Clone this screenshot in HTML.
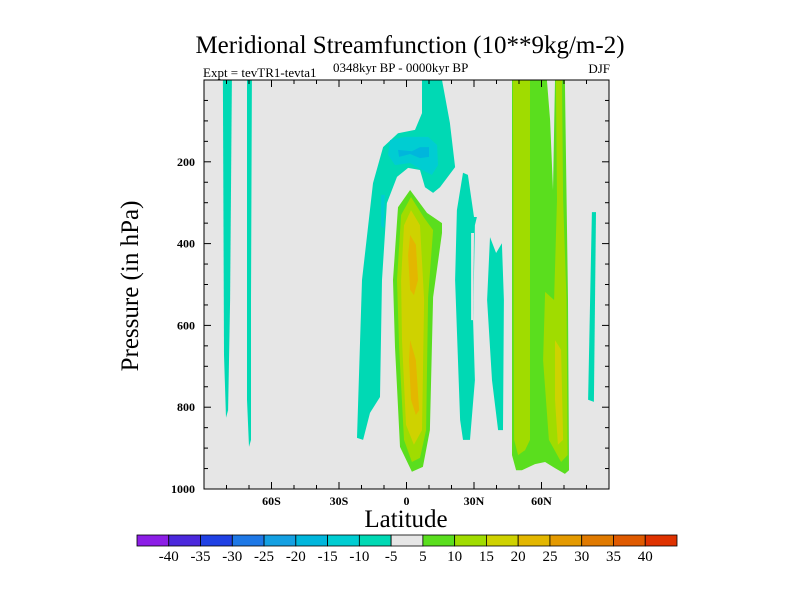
<!DOCTYPE html>
<html><head><meta charset="utf-8"><style>
body{margin:0;background:#fff;width:800px;height:600px;overflow:hidden}
svg{display:block;font-family:"Liberation Serif",serif}
</style></head><body>
<svg id="c" width="800" height="600">
<text x="410" y="53" text-anchor="middle" font-size="25">Meridional Streamfunction (10**9kg/m-2)</text>
<text x="203" y="77" font-size="13">Expt = tevTR1-tevta1</text>
<text x="333" y="72" font-size="13">0348kyr BP - 0000kyr BP</text>
<text x="610" y="73" text-anchor="end" font-size="13">DJF</text>
<text x="406" y="527" text-anchor="middle" font-size="25">Latitude</text>
<text transform="translate(138,286) rotate(-90)" text-anchor="middle" font-size="25">Pressure (in hPa)</text>
<g id="plot"></g>
<g id="bar"></g>
</svg>
<script>
const levels=[-40,-35,-30,-25,-20,-15,-10,-5,5,10,15,20,25,30,35,40];
const levelColors=["#8c1ee6","#4b28dc","#2041e4","#1e78e6","#14a0e2","#00b6dc","#00cdd2","#00d9b4","#e6e6e6","#5ade1e","#a0dc00","#cfd200","#e3b700","#e49a00","#e07a00","#df5a00","#df3200"];
const latTicks=[-60,-30,0,30,60];
const latTickLabels=["60S","30S","0","30N","60N"];
const pTicks=[200,400,600,800,1000];
// filled contour regions: [level index, [[lat,p],...]]
const regionLevels=[7,7,7,7,7,6,6,5,9,10,11,12,12,7,7,9,10,10,11];
const regionShapes=[
[[-81.6,0],[-77.6,0],[-78.4,538],[-79.3,807],[-80.2,826],[-81.1,672]],
[[-70.9,0],[-68.7,0],[-69.1,538],[-69.1,880],[-70,897],[-70.9,782]],
[[82.4,323],[84.2,323],[83.3,787],[80.7,782],[81.6,538]],
[[6.9,0],[15.8,0],[19.3,105],[21.6,213],[14.9,262],[11.8,276],[8.2,262],[6,220],[0.7,215],[-4.2,237],[-8.7,301],[-10.9,489],[-11.8,775],[-16.2,814],[-19.3,880],[-22,875],[-19.8,489],[-14.9,252],[-10.4,164],[-3.8,130],[3.8,122],[6.9,81]],
[[25.1,227],[27.3,232],[30,335],[31.3,335],[30.4,355],[29.6,587],[30.4,734],[28.2,880],[25.1,880],[23.8,831],[21.6,489],[22.4,318]],
[[-7.3,147],[-0.7,139],[9.6,139],[13.6,159],[14,208],[11.3,232],[6.9,220],[1.6,203],[-5.1,208],[-8.2,183]],
[[-11.3,281],[-9.6,281],[-10,362],[-11.3,357]],
[[-3.8,171],[2.4,174],[6,164],[10,164],[10,188],[6,191],[1.6,181],[-3.3,188]],
[[1.6,269],[9.1,325],[15.8,350],[15.8,374],[11.8,531],[10.4,856],[7.3,946],[2.4,958],[-2.9,897],[-5.1,653],[-6,489],[-3.8,311]],
[[2,286],[7.8,337],[11.8,367],[9.6,531],[8.7,856],[6,924],[2.4,934],[-1.1,880],[-3.3,653],[-4.2,489],[-2.4,330]],
[[2,318],[6,355],[7.8,538],[6.9,856],[3.3,892],[-0.2,843],[-2,636],[-2.4,489],[-1.1,355]],
[[1.6,379],[4.2,403],[5.1,489],[3.3,526],[1.6,513],[0.7,428]],
[[1.6,636],[4.2,685],[5.6,807],[4.2,819],[2,782],[1.1,685]],
[[37.1,384],[39.8,423],[42.4,399],[43.3,538],[42.9,856],[40.7,856],[38,734],[35.8,538]],
[[28.7,374],[30,374],[29.6,587],[28.7,587]],
[[46.9,0],[62.4,0],[63.8,98],[65.1,269],[66,0],[70.4,0],[71.8,538],[72.2,954],[70.4,963],[66,949],[61.6,934],[57.1,939],[51.3,954],[48.7,954],[46.9,917]],
[[47.3,0],[54.9,0],[54.9,880],[52.7,905],[49.6,917],[47.8,880]],
[[66.4,0],[69.1,0],[69.6,293],[71.1,538],[71.6,917],[68.7,934],[63.3,880],[60.7,685],[61.6,518],[65.6,538],[66.9,293]],
[[66,636],[68.7,660],[69.6,880],[67.3,892],[66,782]]
];
const NS="http://www.w3.org/2000/svg";
const X0=204,X1=609,Y0=80,Y1=489;
const xs=l=>X0+(l+90)/180*(X1-X0);
const ys=p=>Y0+p/1000*(Y1-Y0);
function mk(t,a,parent){const e=document.createElementNS(NS,t);for(const k in a)e.setAttribute(k,a[k]);parent.appendChild(e);return e;}
const plot=document.getElementById('plot');
const bg=mk('rect',{x:X0,y:Y0,width:X1-X0,height:Y1-Y0,fill:'#e6e6e6'},plot);


regionShapes.forEach((s,i)=>{
  const pts=s.map(q=>xs(q[0]).toFixed(1)+','+ys(q[1]).toFixed(1)).join(' ');
  const col=i==14?'#e6e6e6':levelColors[regionLevels[i]];
  const e=mk('polygon',{points:pts,fill:col},plot);
  
  
});
const fr=mk('rect',{x:X0,y:Y0,width:X1-X0,height:Y1-Y0,fill:'none',stroke:'#000','stroke-width':1},plot);


for(let l=-80;l<=80;l+=10){const maj=l%30==0;const x=xs(l);
  mk('line',{x1:x,x2:x,y1:Y1,y2:Y1-(maj?7:4),stroke:'#000'},plot);
  mk('line',{x1:x,x2:x,y1:Y0,y2:Y0+(maj?7:4),stroke:'#000'},plot);}
for(let p=50;p<1000;p+=50){const maj=p%200==0;const y=ys(p);
  mk('line',{x1:X0,x2:X0+(maj?7:4),y1:y,y2:y,stroke:'#000'},plot);
  mk('line',{x1:X1,x2:X1-(maj?7:4),y1:y,y2:y,stroke:'#000'},plot);}
latTicks.forEach((l,i)=>{const t=mk('text',{x:xs(l),y:505,'text-anchor':'middle','font-size':12,'font-weight':'bold'},plot);t.textContent=latTickLabels[i];
  
  });
pTicks.forEach(p=>{const t=mk('text',{x:195,y:ys(p)+4,'text-anchor':'end','font-size':12,'font-weight':'bold'},plot);t.textContent=p;
  
  });
const bar=document.getElementById('bar');
const BX=137,BW=540/levelColors.length,BY=535,BH=11;
levelColors.forEach((c,i)=>{const r=mk('rect',{x:BX+i*BW,y:BY,width:BW,height:BH,fill:c,stroke:'#000','stroke-width':0.8},bar);
  
  });
levels.forEach((v,i)=>{const t=mk('text',{x:BX+(i+1)*BW,y:561,'text-anchor':'middle','font-size':15},bar);t.textContent=v;
  
  });
</script>
</body></html>
